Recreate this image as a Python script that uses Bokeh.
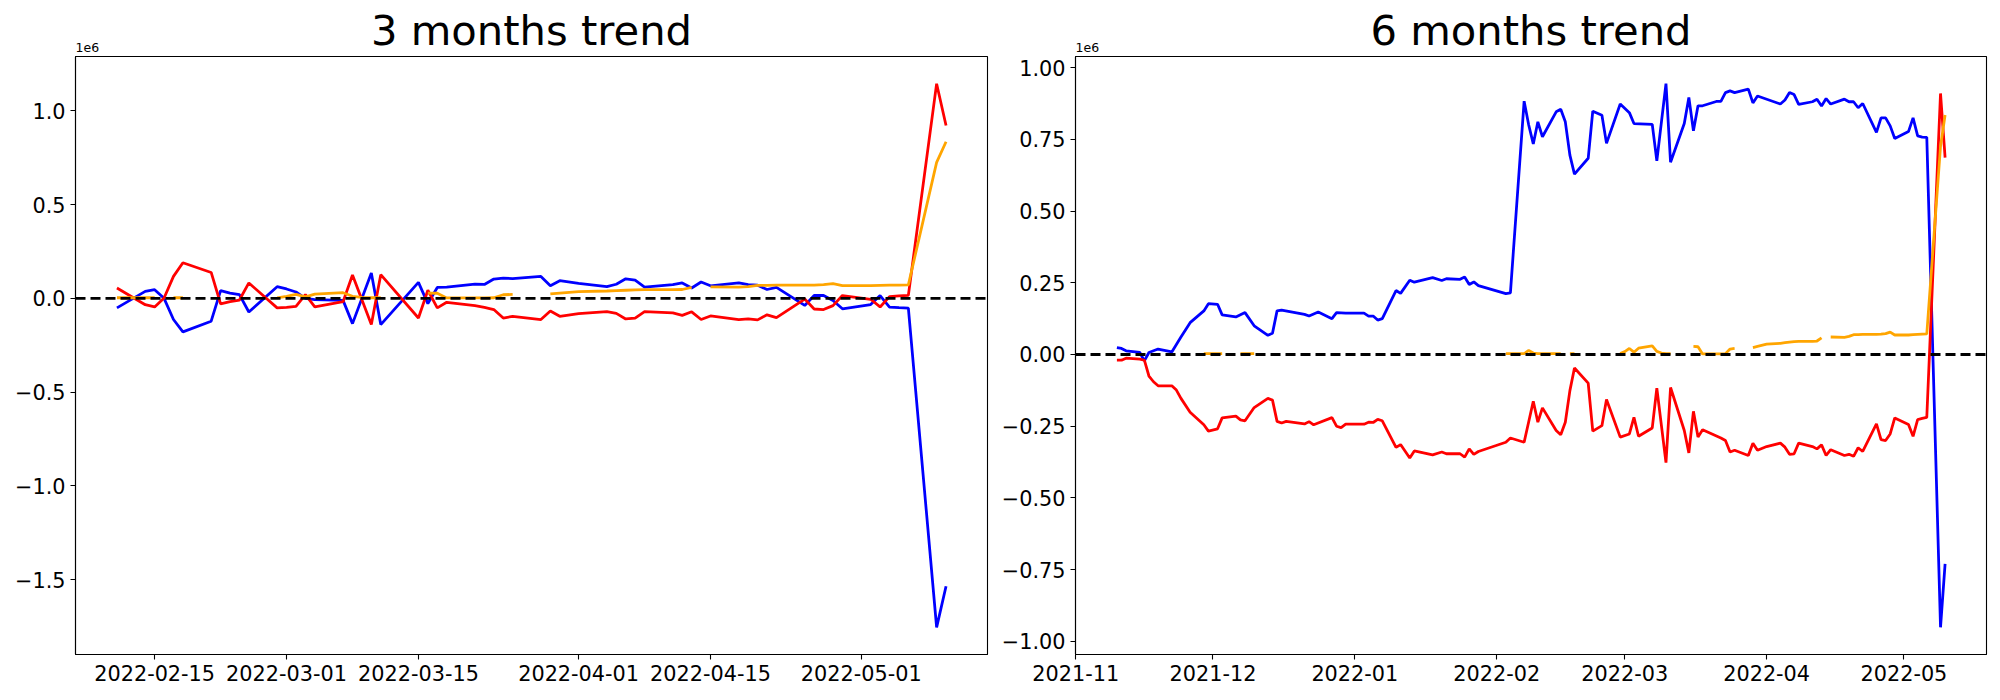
import numpy as np
import pandas as pd
from bokeh.plotting import figure
from bokeh.models import (Range1d, FixedTicker, CustomJSTickFormatter, Span, Title,
                          ColumnDataSource)
from bokeh.layouts import row
from bokeh.embed import file_html
from bokeh.resources import INLINE

NAN = float("nan")

# ---------------- 3 months panel (values in units of 1e6) ----------------
left_dates = [
    "2022-02-11", "2022-02-14", "2022-02-15", "2022-02-16", "2022-02-17", "2022-02-18",
    "2022-02-21", "2022-02-22", "2022-02-23", "2022-02-24", "2022-02-25",
    "2022-02-28", "2022-03-01", "2022-03-02", "2022-03-03", "2022-03-04",
    "2022-03-07", "2022-03-08", "2022-03-10", "2022-03-11",
    "2022-03-15", "2022-03-16", "2022-03-17", "2022-03-18",
    "2022-03-21", "2022-03-22", "2022-03-23", "2022-03-24", "2022-03-25",
    "2022-03-28", "2022-03-29", "2022-03-30", "2022-04-01",
    "2022-04-04", "2022-04-05", "2022-04-06", "2022-04-07", "2022-04-08",
    "2022-04-11", "2022-04-12", "2022-04-13", "2022-04-14", "2022-04-15",
    "2022-04-18", "2022-04-19", "2022-04-20", "2022-04-21", "2022-04-22",
    "2022-04-25", "2022-04-26", "2022-04-27", "2022-04-28", "2022-04-29",
    "2022-05-02", "2022-05-03", "2022-05-04", "2022-05-05", "2022-05-06",
    "2022-05-09", "2022-05-10",
]
left_blue = [
    -0.051, 0.037, 0.046, 0.000, -0.113, -0.179,
    -0.122, 0.041, 0.028, 0.020, -0.073,
    0.062, 0.050, 0.034, 0.000, -0.007,
    -0.011, -0.135, 0.135, -0.140,
    0.085, -0.028, 0.058, 0.060,
    0.076, 0.074, 0.103, 0.108, 0.105,
    0.117, 0.067, 0.094, 0.080,
    0.062, 0.075, 0.104, 0.097, 0.060,
    0.073, 0.082, 0.055, 0.087, 0.067,
    0.082, 0.073, 0.070, 0.047, 0.058,
    -0.038, 0.015, 0.015, -0.012, -0.056,
    -0.033, 0.015, -0.047, -0.050, -0.052,
    -1.755, -1.536,
]
left_red = [
    0.055, -0.034, -0.046, 0.002, 0.117, 0.190,
    0.138, -0.030, -0.018, -0.009, 0.082,
    -0.051, -0.048, -0.043, 0.020, -0.046,
    -0.018, 0.124, -0.140, 0.126,
    -0.105, 0.043, -0.051, -0.021,
    -0.039, -0.048, -0.060, -0.105, -0.096,
    -0.113, -0.068, -0.096, -0.082,
    -0.071, -0.080, -0.110, -0.106, -0.071,
    -0.078, -0.091, -0.072, -0.113, -0.094,
    -0.114, -0.110, -0.115, -0.088, -0.103,
    -0.004, -0.057, -0.060, -0.039, 0.015,
    -0.005, -0.046, 0.009, 0.013, 0.016,
    1.145, 0.922,
]

# ---------------- orange series (shared by both panels, gaps = NaN) ----------------
orange_dates = [
    "2021-11-29", "2021-11-30", "2021-12-01", "2021-12-02", "2021-12-03", "2021-12-06",
    "2021-12-07", "2021-12-08", "2021-12-09", "2021-12-10", "2021-12-13",
    "2022-02-03", "2022-02-04", "2022-02-07", "2022-02-08", "2022-02-09", "2022-02-10",
    "2022-02-11", "2022-02-14", "2022-02-15", "2022-02-16", "2022-02-17", "2022-02-18",
    "2022-02-21", "2022-02-28", "2022-03-01", "2022-03-02", "2022-03-03", "2022-03-04",
    "2022-03-07", "2022-03-08", "2022-03-09", "2022-03-10", "2022-03-11", "2022-03-14",
    "2022-03-16", "2022-03-17", "2022-03-18", "2022-03-21", "2022-03-22", "2022-03-23",
    "2022-03-24", "2022-03-25", "2022-03-28", "2022-03-29", "2022-03-30", "2022-04-01",
    "2022-04-04", "2022-04-05", "2022-04-06", "2022-04-07", "2022-04-08", "2022-04-11",
    "2022-04-12", "2022-04-13", "2022-04-14", "2022-04-15", "2022-04-18", "2022-04-19",
    "2022-04-20", "2022-04-21", "2022-04-22", "2022-04-25", "2022-04-26", "2022-04-27",
    "2022-04-28", "2022-04-29", "2022-05-02", "2022-05-03", "2022-05-04", "2022-05-05",
    "2022-05-06", "2022-05-09", "2022-05-10",
]
orange_vals = [
    0.003, 0.003, 0.003, 0.003, 0.003, NAN,
    0.003, 0.003, 0.003, 0.003, NAN,
    0.003, 0.003, 0.003, 0.014, 0.005, 0.003,
    0.003, 0.003, 0.003, NAN, 0.003, 0.003,
    NAN, 0.003, 0.010, 0.021, 0.008, 0.022,
    0.030, 0.011, 0.005, 0.003, 0.003, NAN,
    0.028, 0.027, 0.002, 0.002, 0.002, 0.003,
    0.019, 0.021, NAN, 0.024, 0.028, 0.036,
    0.039, 0.041, 0.043, 0.045, 0.046, 0.046,
    0.047, 0.058, NAN, 0.061, 0.060, 0.063,
    0.069, 0.069, 0.070, 0.070, 0.071, 0.073,
    0.078, 0.068, 0.068, 0.069, 0.070, 0.071,
    0.072, 0.725, 0.835,
]

# ---------------- 6 months panel (values in units of 1e6) ----------------
right_blue_dates = [
    "2021-11-10", "2021-11-11", "2021-11-12", "2021-11-15", "2021-11-16", "2021-11-17",
    "2021-11-19", "2021-11-22", "2021-11-24", "2021-11-26", "2021-11-29", "2021-11-30",
    "2021-12-02", "2021-12-03", "2021-12-06", "2021-12-08", "2021-12-10", "2021-12-13",
    "2021-12-14", "2021-12-15", "2021-12-16", "2021-12-21", "2021-12-22", "2021-12-24",
    "2021-12-27", "2021-12-28", "2021-12-30", "2022-01-03", "2022-01-04", "2022-01-05",
    "2022-01-06", "2022-01-07", "2022-01-10", "2022-01-11", "2022-01-13", "2022-01-14",
    "2022-01-18", "2022-01-20", "2022-01-21", "2022-01-24", "2022-01-25", "2022-01-26",
    "2022-01-27", "2022-01-28", "2022-02-03", "2022-02-04", "2022-02-07", "2022-02-08",
    "2022-02-09", "2022-02-10", "2022-02-11", "2022-02-14", "2022-02-15", "2022-02-16",
    "2022-02-17", "2022-02-18", "2022-02-21", "2022-02-22", "2022-02-24", "2022-02-25",
    "2022-02-28", "2022-03-02", "2022-03-03", "2022-03-07", "2022-03-08", "2022-03-10",
    "2022-03-11", "2022-03-14", "2022-03-15", "2022-03-16", "2022-03-17", "2022-03-18",
    "2022-03-21", "2022-03-22", "2022-03-23", "2022-03-24", "2022-03-25", "2022-03-28",
    "2022-03-29", "2022-03-30", "2022-04-04", "2022-04-05", "2022-04-06", "2022-04-07",
    "2022-04-08", "2022-04-11", "2022-04-12", "2022-04-13", "2022-04-14", "2022-04-15",
    "2022-04-18", "2022-04-19", "2022-04-20", "2022-04-21", "2022-04-22", "2022-04-25",
    "2022-04-26", "2022-04-27", "2022-04-28", "2022-04-29", "2022-05-02", "2022-05-03",
    "2022-05-04", "2022-05-05", "2022-05-06", "2022-05-09", "2022-05-10",
]
right_blue = [
    0.024, 0.021, 0.013, 0.007, -0.022, 0.007,
    0.019, 0.009, 0.061, 0.111, 0.152, 0.177,
    0.175, 0.138, 0.131, 0.146, 0.100, 0.067,
    0.074, 0.152, 0.155, 0.140, 0.134, 0.148,
    0.125, 0.146, 0.144, 0.144, 0.134, 0.134,
    0.120, 0.125, 0.223, 0.213, 0.259, 0.252,
    0.268, 0.258, 0.264, 0.262, 0.270, 0.244,
    0.253, 0.240, 0.212, 0.215, 0.883, 0.800,
    0.734, 0.811, 0.759, 0.846, 0.855, 0.811,
    0.695, 0.629, 0.684, 0.848, 0.834, 0.736,
    0.873, 0.843, 0.805, 0.802, 0.675, 0.944,
    0.670, 0.805, 0.896, 0.780, 0.867, 0.867,
    0.882, 0.882, 0.913, 0.919, 0.913, 0.925,
    0.877, 0.901, 0.873, 0.887, 0.913, 0.906,
    0.872, 0.881, 0.890, 0.866, 0.892, 0.873,
    0.890, 0.881, 0.881, 0.860, 0.875, 0.774,
    0.825, 0.825, 0.797, 0.753, 0.777, 0.825,
    0.762, 0.758, 0.757, -0.951, -0.730,
]
right_red_dates = [
    "2021-11-10", "2021-11-11", "2021-11-12", "2021-11-15", "2021-11-16", "2021-11-17",
    "2021-11-18", "2021-11-19", "2021-11-22", "2021-11-23", "2021-11-24", "2021-11-26",
    "2021-11-29", "2021-11-30", "2021-12-02", "2021-12-03", "2021-12-06", "2021-12-07",
    "2021-12-08", "2021-12-10", "2021-12-13", "2021-12-14", "2021-12-15", "2021-12-16",
    "2021-12-17", "2021-12-21", "2021-12-22", "2021-12-23", "2021-12-27", "2021-12-28",
    "2021-12-29", "2021-12-30", "2022-01-03", "2022-01-04", "2022-01-05", "2022-01-06",
    "2022-01-07", "2022-01-10", "2022-01-11", "2022-01-13", "2022-01-14", "2022-01-18",
    "2022-01-20", "2022-01-21", "2022-01-24", "2022-01-25", "2022-01-26", "2022-01-27",
    "2022-01-28", "2022-02-03", "2022-02-04", "2022-02-07", "2022-02-09", "2022-02-10",
    "2022-02-11", "2022-02-14", "2022-02-15", "2022-02-16", "2022-02-17", "2022-02-18",
    "2022-02-21", "2022-02-22", "2022-02-24", "2022-02-25", "2022-02-28", "2022-03-02",
    "2022-03-03", "2022-03-04", "2022-03-07", "2022-03-08", "2022-03-10", "2022-03-11",
    "2022-03-14", "2022-03-15", "2022-03-16", "2022-03-17", "2022-03-18", "2022-03-22",
    "2022-03-23", "2022-03-24", "2022-03-25", "2022-03-28", "2022-03-29", "2022-03-30",
    "2022-04-01", "2022-04-04", "2022-04-05", "2022-04-06", "2022-04-07", "2022-04-08",
    "2022-04-11", "2022-04-12", "2022-04-13", "2022-04-14", "2022-04-15", "2022-04-18",
    "2022-04-19", "2022-04-20", "2022-04-21", "2022-04-22", "2022-04-25", "2022-04-26",
    "2022-04-27", "2022-04-28", "2022-04-29", "2022-05-02", "2022-05-03", "2022-05-04",
    "2022-05-05", "2022-05-06", "2022-05-09", "2022-05-10",
]
right_red = [
    -0.020, -0.020, -0.013, -0.016, -0.020, -0.075,
    -0.095, -0.109, -0.109, -0.124, -0.153, -0.201,
    -0.245, -0.267, -0.259, -0.221, -0.215, -0.228,
    -0.231, -0.185, -0.153, -0.159, -0.233, -0.239,
    -0.233, -0.242, -0.234, -0.245, -0.220, -0.250,
    -0.255, -0.243, -0.243, -0.236, -0.237, -0.226,
    -0.231, -0.324, -0.314, -0.361, -0.336, -0.350,
    -0.340, -0.346, -0.346, -0.358, -0.329, -0.348,
    -0.338, -0.306, -0.291, -0.306, -0.163, -0.236,
    -0.186, -0.265, -0.280, -0.236, -0.126, -0.047,
    -0.100, -0.267, -0.248, -0.157, -0.288, -0.277,
    -0.219, -0.285, -0.256, -0.117, -0.377, -0.115,
    -0.265, -0.343, -0.198, -0.288, -0.262, -0.291,
    -0.300, -0.340, -0.334, -0.352, -0.309, -0.334,
    -0.321, -0.309, -0.323, -0.348, -0.346, -0.309,
    -0.321, -0.329, -0.315, -0.352, -0.332, -0.352,
    -0.348, -0.355, -0.325, -0.338, -0.242, -0.297,
    -0.300, -0.277, -0.221, -0.244, -0.285, -0.227,
    -0.223, -0.219, 0.910, 0.686,
]

left_xticks = ["2022-02-15", "2022-03-01", "2022-03-15", "2022-04-01", "2022-04-15", "2022-05-01"]
right_xticks = ["2021-11-01", "2021-12-01", "2022-01-01", "2022-02-01", "2022-03-01",
                "2022-04-01", "2022-05-01"]
left_yticks = [-1.5, -1.0, -0.5, 0.0, 0.5, 1.0]
right_yticks = [-1.0, -0.75, -0.5, -0.25, 0.0, 0.25, 0.5, 0.75, 1.0]

FONT = "DejaVu Sans"
LW = 2.78
SMALL_SIZE = 12.5
SMALL_STANDOFF = 8.6
MAIN_STANDOFF = -36.6


def to_ms(dates):
    return (pd.to_datetime(dates).values.astype("datetime64[ms]").astype(np.int64)).astype(float)


def make_panel(title, bdates, bvals, rdates, rvals, odates, ovals, xticks, xfmt_code,
               yticks, ydigits, width, bl, br):
    bx, rx, ox = to_ms(bdates), to_ms(rdates), to_ms(odates)
    by, ry, oy = np.array(bvals, float), np.array(rvals, float), np.array(ovals, float)
    xmin = min(bx.min(), rx.min(), ox.min())
    xmax = max(bx.max(), rx.max(), ox.max())
    ally = np.concatenate([by, ry, oy])
    ymin, ymax = np.nanmin(ally), np.nanmax(ally)
    dx, dy = xmax - xmin, ymax - ymin

    p = figure(width=width, height=698, x_axis_type="datetime",
               output_backend="svg", toolbar_location=None,
               x_range=Range1d(xmin - 0.05 * dx, xmax + 0.05 * dx),
               y_range=Range1d(ymin - 0.05 * dy, ymax + 0.05 * dy),
               min_border_left=bl, min_border_right=br,
               min_border_top=56, min_border_bottom=44)
    p.title.text = title
    p.title.align = "center"
    p.title.text_font = FONT
    p.title.text_font_size = "41.7px"
    p.title.text_font_style = "normal"
    p.title.text_color = "black"
    p.title.vertical_align = "bottom"
    try:
        p.title.standoff = MAIN_STANDOFF
    except Exception:
        p.title.standoff = 0

    small = Title(text="1e6", align="left", offset=0, vertical_align="bottom",
                  text_font=FONT, text_font_size="%gpx" % SMALL_SIZE,
                  text_font_style="normal", text_color="black", standoff=SMALL_STANDOFF)
    p.add_layout(small, "above")

    p.xgrid.visible = False
    p.ygrid.visible = False
    p.outline_line_color = "black"
    p.outline_line_width = 1.1
    p.background_fill_color = "white"
    p.border_fill_color = "white"

    for ax in (p.xaxis[0], p.yaxis[0]):
        ax.major_label_text_font = FONT
        ax.major_label_text_font_size = "20.8px"
        ax.major_label_text_color = "black"
        ax.axis_line_color = "black"
        ax.axis_line_width = 1.1
        ax.major_tick_line_color = "black"
        ax.major_tick_line_width = 1.1
        ax.major_tick_in = 0
        ax.major_tick_out = 5
        ax.minor_tick_line_color = None
        ax.minor_tick_out = 0
        ax.minor_tick_in = 0
        ax.major_label_standoff = 5
        ax.axis_label_text_font_size = "0px"
        ax.axis_label_standoff = 0

    p.xaxis[0].ticker = FixedTicker(ticks=list(to_ms(xticks)))
    p.xaxis[0].formatter = CustomJSTickFormatter(code=xfmt_code)
    p.yaxis[0].ticker = FixedTicker(ticks=yticks)
    p.yaxis[0].formatter = CustomJSTickFormatter(
        code="return tick.toFixed(%d).replace('-', '\\u2212');" % ydigits)

    p.line(x="x", y="y", source=ColumnDataSource(dict(x=bx, y=by)), line_color="blue", line_width=LW)
    p.line(x="x", y="y", source=ColumnDataSource(dict(x=rx, y=ry)), line_color="red", line_width=LW)
    p.line(x="x", y="y", source=ColumnDataSource(dict(x=ox, y=oy)), line_color="orange", line_width=LW)

    p.add_layout(Span(location=0, dimension="width", line_color="black",
                      line_dash="10 5", line_width=LW))
    return p


fmt_day = ("const d = new Date(tick);"
           "const m = String(d.getUTCMonth() + 1).padStart(2, '0');"
           "const dd = String(d.getUTCDate()).padStart(2, '0');"
           "return d.getUTCFullYear() + '-' + m + '-' + dd;")
fmt_month = ("const d = new Date(tick);"
             "const m = String(d.getUTCMonth() + 1).padStart(2, '0');"
             "return d.getUTCFullYear() + '-' + m;")

left_start = pd.Timestamp(left_dates[0])
lo_dates = [d for d in orange_dates if pd.Timestamp(d) >= left_start]
lo_vals = [v for d, v in zip(orange_dates, orange_vals) if pd.Timestamp(d) >= left_start]

p1 = make_panel("3 months trend", left_dates, left_blue, left_dates, left_red,
                lo_dates, lo_vals, left_xticks, fmt_day, left_yticks, 1, 998, 75, 11)
p2 = make_panel("6 months trend", right_blue_dates, right_blue, right_red_dates, right_red,
                orange_dates, orange_vals, right_xticks, fmt_month, right_yticks, 2, 1000, 76, 12)

layout = row(p1, p2)
open("out.html", "w").write(file_html(layout, INLINE))
